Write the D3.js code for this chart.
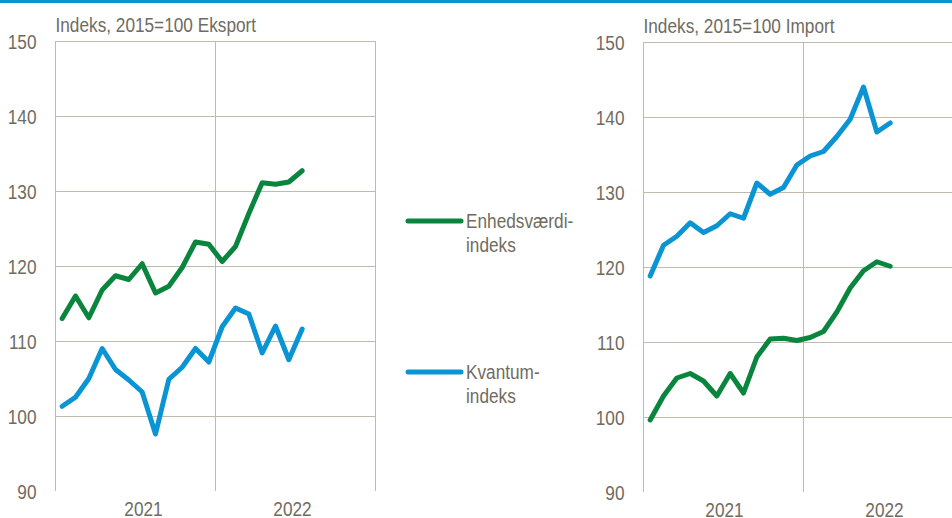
<!DOCTYPE html>
<html>
<head>
<meta charset="utf-8">
<script src="https://cdn.jsdelivr.net/npm/d3@7/dist/d3.min.js"></script>
<style>
  body { margin: 0; background: #fff; }
  svg { display: block; }
  text { font-family: "Liberation Sans", Arial, sans-serif; fill: #6f6c5f; }
</style>
</head>
<body>
<div id="chart"></div>
<script>
// data: monthly index, 2015=100, Jan 2021 - Jul 2022
var months = ['2021-01', '2021-02', '2021-03', '2021-04', '2021-05', '2021-06', '2021-07', '2021-08', '2021-09', '2021-10', '2021-11', '2021-12',
  '2022-01', '2022-02', '2022-03', '2022-04', '2022-05', '2022-06', '2022-07', '2022-08', '2022-09', '2022-10', '2022-11', '2022-12'];
var years = ['2021', '2022'];
var yTicks = [90, 100, 110, 120, 130, 140, 150];

var eksportEnhed = [113.0, 116.0, 113.1, 116.8, 118.7, 118.2, 120.3, 116.4, 117.3, 119.8, 123.2, 122.9, 120.6, 122.6, 127.0, 131.1, 130.9, 131.2, 132.7];
var eksportKvantum = [101.3, 102.5, 105.0, 109.0, 106.2, 104.8, 103.2, 97.6, 104.9, 106.5, 109.0, 107.2, 111.9, 114.4, 113.6, 108.4, 112.0, 107.5, 111.6];
var importEnhed = [99.6, 102.8, 105.2, 105.8, 104.8, 102.8, 105.8, 103.2, 108.0, 110.4, 110.5, 110.2, 110.6, 111.4, 114.0, 117.2, 119.5, 120.7, 120.1];
var importKvantum = [118.8, 122.9, 124.1, 125.9, 124.6, 125.5, 127.1, 126.5, 131.2, 129.7, 130.6, 133.6, 134.8, 135.4, 137.4, 139.7, 144.0, 138.0, 139.2];

var legendNames = [['Enhedsværdi-', 'indeks'], ['Kvantum-', 'indeks']];
var green = '#0a853d', blue = '#0a94d4', gridColor = '#bfbcae';

var width = 952, height = 518;
var fontSize = 20.5;

var svg = d3.select('#chart').append('svg')
  .attr('width', width)
  .attr('height', height);

// squeeze texts to look like a narrow font
function narrow(sel) {
  sel.each(function() {
    var w = this.getComputedTextLength();
    d3.select(this)
      .attr('textLength', w * 0.84)
      .attr('lengthAdjust', 'spacingAndGlyphs');
  });
}

// blue rule at the top
svg.append('rect')
  .attr('x', 0).attr('y', 0)
  .attr('width', width).attr('height', 3)
  .attr('fill', blue);

//draw one panel
function drawPanel(opts) {
  var x = d3.scaleBand().domain(months).range([opts.left, opts.right]);
  var xYear = d3.scaleBand().domain(years).range([opts.left, opts.right]);
  var y = d3.scaleLinear().domain([90, 150]).range([opts.bottom, opts.top]);

  var g = svg.append('g');

  // horizontal gridlines + y labels
  var yAxis = g.append('g')
    .attr('transform', 'translate(' + opts.left + ',0)')
    .call(d3.axisLeft(y).tickValues(yTicks).tickSize(-(opts.right - opts.left)).tickPadding(19));
  yAxis.select('.domain').remove();
  yAxis.selectAll('.tick line')
    .attr('stroke', function(d) { return d === 90 ? 'none' : gridColor; })
    .attr('stroke-width', 1);
  yAxis.selectAll('.tick text')
    .attr('font-size', fontSize)
    .attr('font-family', null)
    .attr('fill', null)
    .attr('dy', '0.36em')
    .call(narrow);

  // vertical lines: left edge, year divider, right edge
  g.selectAll('.vline')
    .data([opts.left, xYear('2022'), opts.right])
    .enter().append('line')
    .attr('class', 'vline')
    .attr('x1', function(d) { return d; })
    .attr('x2', function(d) { return d; })
    .attr('y1', opts.top)
    .attr('y2', opts.bottom)
    .attr('stroke', gridColor)
    .attr('stroke-width', 1);

  // year labels
  var xAxis = g.append('g')
    .attr('transform', 'translate(0,' + opts.bottom + ')')
    .call(d3.axisBottom(xYear).tickSize(0).tickPadding(10));
  xAxis.select('.domain').remove();
  xAxis.selectAll('.tick text')
    .attr('font-size', fontSize)
    .attr('font-family', null)
    .attr('fill', null)
    .attr('x', function(d, i) { return opts.yearShift[i]; })
    .call(narrow);

  // title
  g.append('text')
    .attr('x', opts.left)
    .attr('y', opts.top - 9.5)
    .attr('font-size', fontSize)
    .text(opts.title)
    .call(narrow);

  var line = d3.line()
    .x(function(d, i) { return x(months[i]) + x.bandwidth() / 2; })
    .y(function(d) { return y(d); });

  g.selectAll('.series')
    .data(opts.series)
    .enter().append('path')
    .attr('class', 'series')
    .attr('d', function(d) { return line(d.values); })
    .attr('fill', 'none')
    .attr('stroke', function(d) { return d.color; })
    .attr('stroke-width', 5)
    .attr('stroke-linejoin', 'round')
    .attr('stroke-linecap', 'round');
}

drawPanel({
  left: 55.5, right: 375.5, top: 41, bottom: 491,
  yearShift: [8, -3],
  title: 'Indeks, 2015=100 Eksport',
  series: [{ values: eksportEnhed, color: green }, { values: eksportKvantum, color: blue }]
});

drawPanel({
  left: 643.5, right: 963.5, top: 42, bottom: 492,
  yearShift: [1, 1],
  title: 'Indeks, 2015=100 Import',
  series: [{ values: importKvantum, color: blue }, { values: importEnhed, color: green }]
});

//draw legend
var legend = svg.selectAll('.legend')
  .data(legendNames)
  .enter().append('g')
  .attr('class', 'legend')
  .attr('transform', function(d, i) { return 'translate(0,' + (221 + i * 151) + ')'; });

legend.append('line')
  .attr('x1', 408).attr('x2', 461)
  .attr('y1', 0).attr('y2', 0)
  .attr('stroke', function(d, i) { return i === 0 ? green : blue; })
  .attr('stroke-width', 5)
  .attr('stroke-linecap', 'round');

legend.selectAll('text')
  .data(function(d) { return d; })
  .enter().append('text')
  .attr('x', 466)
  .attr('y', function(d, i) { return 6.5 + i * 24.4; })
  .attr('font-size', fontSize)
  .text(function(d) { return d; })
  .call(narrow);
</script>
</body>
</html>
